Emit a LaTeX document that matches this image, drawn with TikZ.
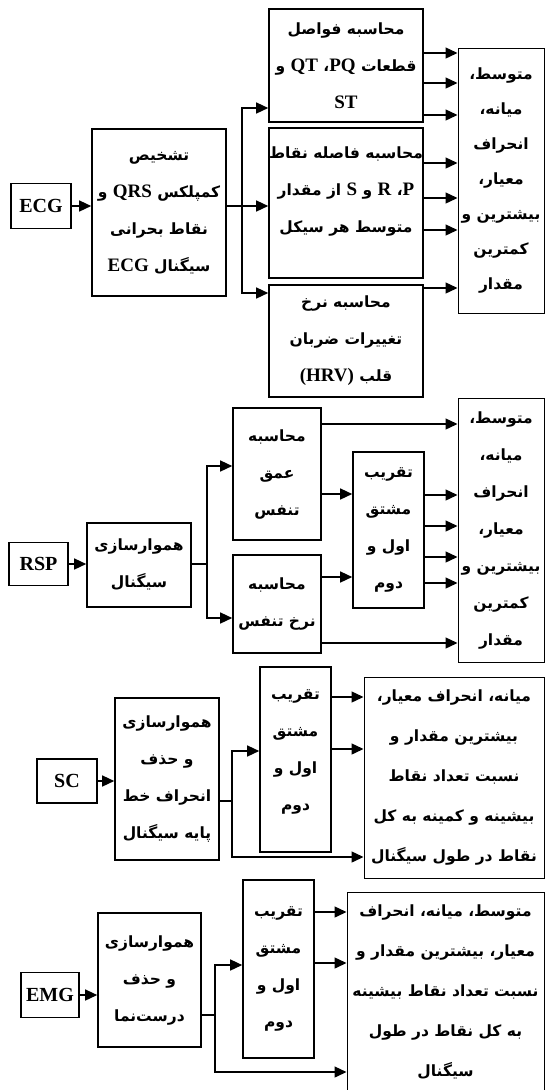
\documentclass[tikz,border=0pt]{standalone}
\usepackage{fontspec}
\setmainfont{Liberation Serif}
\newfontfamily\arabicfont[Script=Arabic]{DejaVu Sans}
\TeXXeTstate=1
\usetikzlibrary{arrows.meta}
\newcommand{\fa}[1]{{\arabicfont\bfseries\beginR #1\endR}}
\newcommand{\la}[1]{{\rmfamily\bfseries\fontsize{19}{37}\selectfont #1}}

\begin{document}
\begin{tikzpicture}[x=1pt,y=-1pt,
  every node/.style={font=\fontsize{15.5}{37}\selectfont},
  box/.style={draw,line width=1.6pt,align=center,inner sep=0pt},
  statbox/.style={draw,line width=1pt,align=center,inner sep=0pt},
  sig/.style={draw,line width=1.6pt,inner sep=0pt,font=\bfseries\fontsize{20}{24}\selectfont},
  arr/.style={line width=1.4pt,-{Triangle[length=12pt,width=11pt]}},
  ln/.style={line width=1.4pt}]
\useasboundingbox (0,0) rectangle (545,1090);

% ECG
\node[sig,minimum width=60pt,minimum height=45pt] (ecg) at (41,206) {ECG};
\node[box,minimum width=134pt,minimum height=167pt] (ecgdet) at (159,212.5)
  {\fa{تشخیص}\\\fa{کمپلکس \la{QRS} و}\\\fa{نقاط بحرانی}\\\fa{سیگنال \la{ECG}}};
\node[box,minimum width=154pt,minimum height=113pt] (ecgint) at (346,65.5)
  {\fa{محاسبه فواصل}\\\fa{قطعات \la{PQ}، \la{QT} و}\\\la{ST}};
\node[box,minimum width=154pt,minimum height=150pt] (ecgdist) at (346,203)
  {\fa{محاسبه فاصله نقاط}\\\fa{\la{P}، \la{R} و \la{S} از مقدار}\\\fa{متوسط هر سیکل}\\[-10pt]~};
\node[box,minimum width=154pt,minimum height=112pt] (ecghrv) at (346,341)
  {\fa{محاسبه نرخ}\\\fa{تغییرات ضربان}\\\fa{قلب \la{(HRV)}}};
\node[statbox,minimum width=86pt,minimum height=265pt,font=\fontsize{15.5}{35}\selectfont] (ecgstat) at (501,180.5)
  {\fa{متوسط،}\\\fa{میانه،}\\\fa{انحراف}\\\fa{معیار،}\\\fa{بیشترین و}\\\fa{کمترین}\\\fa{مقدار}};
\coordinate (ecgsplit) at (242,206);

\draw[arr] (ecg) -- (ecgdet.west |- ecg);
\draw[ln] (ecgdet.east |- ecgsplit) -- (ecgsplit);
\draw[arr] (ecgsplit) -- (ecgdist.west |- ecgsplit);
\draw[arr] (ecgsplit) |- (ecgint.west |- 0,108);
\draw[arr] (ecgsplit) |- (ecghrv.west |- 0,293);
\foreach \yy in {53,83,115}
  \draw[arr] (ecgint.east |- 0,\yy) -- (ecgstat.west |- 0,\yy);
\foreach \yy in {163,198,230}
  \draw[arr] (ecgdist.east |- 0,\yy) -- (ecgstat.west |- 0,\yy);
\draw[arr] (ecghrv.east |- 0,288) -- (ecgstat.west |- 0,288);

% RSP
\node[sig,minimum width=59pt,minimum height=43pt] (rsp) at (38.5,564) {RSP};
\node[box,minimum width=104pt,minimum height=84pt] (rspsm) at (139,565)
  {\fa{هموارسازی}\\\fa{سیگنال}};
\node[box,minimum width=88pt,minimum height=132pt] (depth) at (277,474)
  {\fa{محاسبه}\\\fa{عمق}\\\fa{تنفس}};
\node[box,minimum width=88pt,minimum height=98pt] (rate) at (277,604)
  {\fa{محاسبه}\\\fa{نرخ تنفس}};
\node[box,minimum width=71pt,minimum height=156pt] (rspder) at (388.5,530)
  {\fa{تقریب}\\\fa{مشتق}\\\fa{اول و}\\\fa{دوم}};
\node[statbox,minimum width=86pt,minimum height=264pt] (rspstat) at (501,530)
  {\fa{متوسط،}\\\fa{میانه،}\\\fa{انحراف}\\\fa{معیار،}\\\fa{بیشترین و}\\\fa{کمترین}\\\fa{مقدار}};
\coordinate (rspsplit) at (207,564);

\draw[arr] (rsp) -- (rspsm.west |- rsp);
\draw[ln] (rspsm.east |- rspsplit) -- (rspsplit);
\draw[arr] (rspsplit) |- (depth.west |- 0,466);
\draw[arr] (rspsplit) |- (rate.west |- 0,618);
\draw[arr] (depth.east |- 0,424) -- (rspstat.west |- 0,424);
\draw[arr] (depth.east |- 0,494) -- (rspder.west |- 0,494);
\draw[arr] (rate.east |- 0,577) -- (rspder.west |- 0,577);
\draw[arr] (rate.east |- 0,643) -- (rspstat.west |- 0,643);
\foreach \yy in {495,526,557,583}
  \draw[arr] (rspder.east |- 0,\yy) -- (rspstat.west |- 0,\yy);

% SC
\node[sig,minimum width=60pt,minimum height=44pt] (sc) at (67,781) {SC};
\node[box,minimum width=104pt,minimum height=162pt] (scsm) at (167,779)
  {\fa{هموارسازی}\\\fa{و حذف}\\\fa{انحراف خط}\\\fa{پایه سیگنال}};
\node[box,minimum width=71pt,minimum height=185pt] (scder) at (295.5,759.5)
  {\fa{تقریب}\\\fa{مشتق}\\\fa{اول و}\\\fa{دوم}\\[-19pt]~};
\node[statbox,minimum width=180pt,minimum height=201pt,font=\fontsize{15.5}{40}\selectfont] (scstat) at (454,777.5)
  {\fa{میانه، انحراف معیار،}\\\fa{بیشترین مقدار و}\\\fa{نسبت تعداد نقاط}\\\fa{بیشینه و کمینه به کل}\\\fa{نقاط در طول سیگنال}};
\coordinate (scsplit) at (232,801);

\draw[arr] (sc) -- (scsm.west |- sc);
\draw[ln] (scsm.east |- scsplit) -- (scsplit);
\draw[arr] (scsplit) |- (scder.west |- 0,751);
\draw[arr] (scsplit) |- (scstat.west |- 0,857);
\foreach \yy in {697,749}
  \draw[arr] (scder.east |- 0,\yy) -- (scstat.west |- 0,\yy);

% EMG
\node[sig,minimum width=58pt,minimum height=45pt] (emg) at (50,995) {EMG};
\node[box,minimum width=103pt,minimum height=134pt] (emgsm) at (149.5,980)
  {\fa{هموارسازی}\\\fa{و حذف}\\\fa{درست‌نما}};
\node[box,minimum width=71pt,minimum height=178pt] (emgder) at (278.5,969)
  {\fa{تقریب}\\\fa{مشتق}\\\fa{اول و}\\\fa{دوم}};
\node[statbox,minimum width=197pt,minimum height=201pt,font=\fontsize{15.5}{40}\selectfont] (emgstat) at (445.5,992.5)
  {\fa{متوسط، میانه، انحراف}\\\fa{معیار، بیشترین مقدار و}\\\fa{نسبت تعداد نقاط بیشینه}\\\fa{به کل نقاط در طول}\\\fa{سیگنال}};
\coordinate (emgsplit) at (215,1015);

\draw[arr] (emg) -- (emgsm.west |- emg);
\draw[ln] (emgsm.east |- emgsplit) -- (emgsplit);
\draw[arr] (emgsplit) |- (emgder.west |- 0,965);
\draw[arr] (emgsplit) |- (emgstat.west |- 0,1072);
\foreach \yy in {912,963}
  \draw[arr] (emgder.east |- 0,\yy) -- (emgstat.west |- 0,\yy);
\end{tikzpicture}
\end{document}
